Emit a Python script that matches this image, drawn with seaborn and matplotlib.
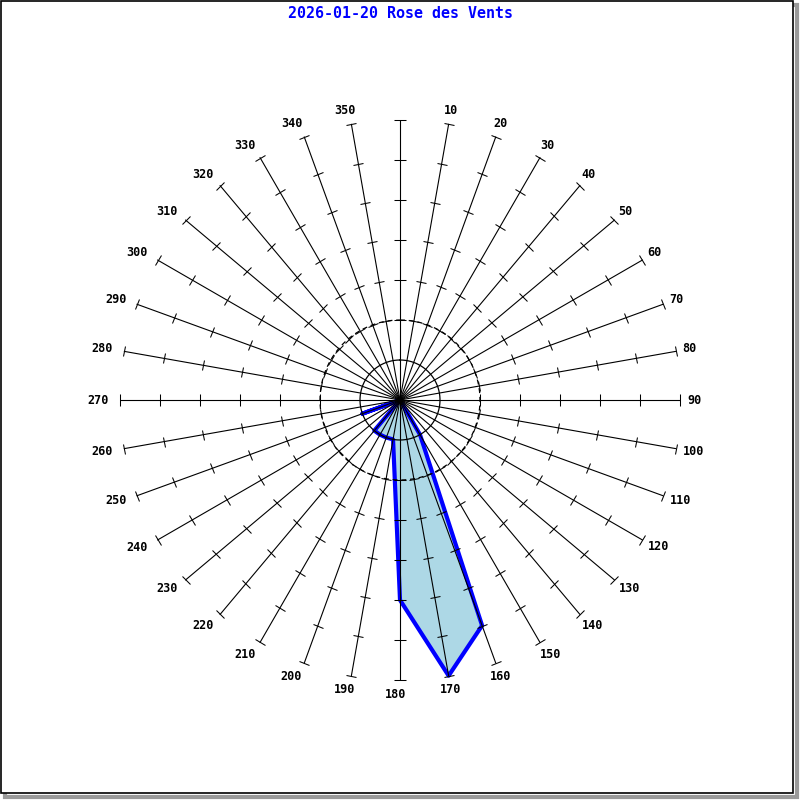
import numpy as np
import matplotlib
matplotlib.use("Agg")
import matplotlib.pyplot as plt
from matplotlib.markers import MarkerStyle
from matplotlib.transforms import Affine2D
from matplotlib.patches import Rectangle
import seaborn as sns

# wind directions (degrees) and frequency per direction (rings of 1 unit)
directions = list(range(0, 360, 10))
freq = [0, 0, 0, 0, 0, 0, 0, 0, 0, 0, 0, 0, 0, 0, 0, 1, 6, 7,
        5, 1, 1, 1, 1, 0, 0, 1, 0, 0, 0, 0, 0, 0, 0, 0, 0, 0]
labels = ['' if d == 0 else str(d) for d in directions]
title = "2026-01-20 Rose des Vents"
r_max = 7
tick_rings = [2, 3, 4, 5, 6, 7]

sns.set_style("white")
plt.rcParams['font.family'] = ['DejaVu Sans Mono', 'DejaVu Sans']

fig = plt.figure(figsize=(8, 8), dpi=100)

# frame with shadow (behind the axes)
fig.add_artist(Rectangle((5 / 800, 3 / 800), 792 / 800, 792 / 800,
                         transform=fig.transFigure, fill=False,
                         edgecolor='#9a9a9a', lw=3, zorder=-2))
fig.add_artist(Rectangle((1 / 800, 7 / 800), 792 / 800, 792 / 800,
                         transform=fig.transFigure, facecolor='white',
                         edgecolor='black', lw=1.2, zorder=-1))

ax = fig.add_axes([0.15, 0.15, 0.7, 0.7], projection='polar')
ax.set_theta_zero_location('N')
ax.set_theta_direction(-1)
ax.grid(False)
ax.spines['polar'].set_visible(False)
ax.patch.set_alpha(0)

# wind rose polygon (under the grid)
th = np.deg2rad(directions + [360])
rr = freq + [freq[0]]
ax.fill(th, rr, color='#add8e6', zorder=1, clip_on=False)
sns.lineplot(x=th, y=rr, sort=False, estimator=None, color='blue', lw=3,
             ax=ax, zorder=1.5, clip_on=False)

# circles
circ = np.linspace(0, 2 * np.pi, 361)
ax.plot(circ, np.full_like(circ, 1.0), color='black', lw=0.9, zorder=2)
ax.plot(circ, np.full_like(circ, 2.0), color='black', lw=0.9,
        ls=(0, (4, 3)), zorder=2)

# spokes with perpendicular ticks
for d in directions:
    t = np.deg2rad(d)
    ax.plot([t, t], [0, r_max], color='black', lw=0.8, clip_on=False, zorder=2)
    m = MarkerStyle('_', transform=Affine2D().rotate_deg(-d))
    ax.plot([t] * len(tick_rings), tick_rings, ls='none', marker=m,
            ms=8, mew=0.75, color='black', clip_on=False, zorder=2)

ax.set_xlabel('')
ax.set_ylabel('')
ax.set_xticks([])
ax.set_yticks([])
ax.set_ylim(0, r_max)

# direction labels
for d, lbl in zip(directions, labels):
    if 200 <= d <= 340:
        dx = -8
    elif d in (180, 190, 350):
        dx = -4
    elif 100 <= d <= 150:
        dx = 4
    else:
        dx = 0
    ax.annotate(lbl, xy=(np.deg2rad(d), 7.35), xytext=(dx * 0.72, 0),
                textcoords='offset points', ha='center', va='center',
                fontsize=8.5, fontweight='bold', color='black',
                annotation_clip=False)

fig.text(0.5, 1 - 14 / 800, title, color='blue', fontsize=10.8,
         fontweight='bold', ha='center', va='center')

fig.savefig('out.png', dpi=100)
